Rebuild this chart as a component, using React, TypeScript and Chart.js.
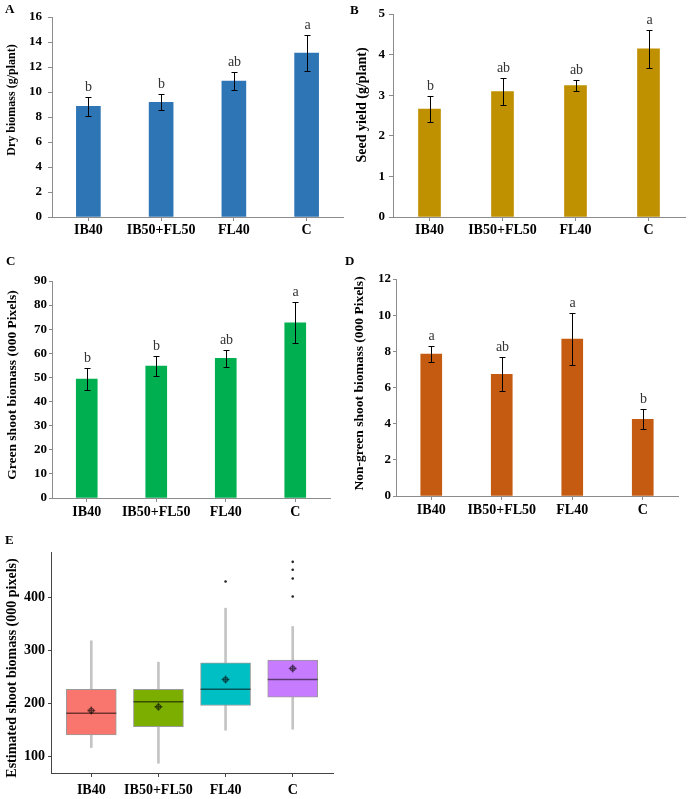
import React, { useEffect, useRef } from "react";
import { Chart, registerables } from "chart.js";
Chart.register(...registerables);

const FONT = "'Liberation Serif', 'Times New Roman', serif";
const AXIS = "#8c8c8c";

// ---- data ----
const categories = ["IB40", "IB50+FL50", "FL40", "C"];

const dryBiomass = [8.85, 9.18, 10.87, 13.12];
const dryBiomassErr = [0.77, 0.65, 0.7, 1.45];
const dryBiomassLetters = ["b", "b", "ab", "a"];

const seedYield = [2.66, 3.09, 3.24, 4.14];
const seedYieldErr = [0.33, 0.33, 0.14, 0.47];
const seedYieldLetters = ["b", "ab", "ab", "a"];

const greenShoot = [49.3, 54.7, 57.9, 72.7];
const greenShootErr = [4.7, 4.2, 3.4, 8.4];
const greenShootLetters = ["b", "b", "ab", "a"];

const nonGreenShoot = [7.85, 6.73, 8.68, 4.24];
const nonGreenShootErr = [0.44, 0.95, 1.45, 0.56];
const nonGreenShootLetters = ["a", "ab", "a", "b"];

const boxQ1 = [140.7, 156.4, 196.0, 211.7];
const boxMedian = [181.5, 202.9, 226.7, 244.9];
const boxQ3 = [226.7, 226.7, 276.3, 281.4];
const whiskerLow = [116.9, 87.4, 149.5, 151.4];
const whiskerHigh = [317.8, 277.6, 379.3, 344.8];
const boxMean = [186.6, 193.5, 244.9, 265.7];
const outliers = [[], [], [429.5], [466.5, 451.5, 435.2, 401.3]];
const boxTicks = [100, 200, 300, 400];
const boxColors = ["#F8766D", "#7CAE00", "#00BFC4", "#C77CFF"];

// ---- plugins ----
const errorBarPlugin = {
  id: "errbars",
  afterDatasetsDraw(chart: any, _a: any, opts: any) {
    if (!opts || !opts.errors) return;
    const meta = chart.getDatasetMeta(0);
    const y = chart.scales.y;
    const vals = chart.data.datasets[0].data;
    const ctx = chart.ctx;
    ctx.save();
    ctx.strokeStyle = "#000";
    ctx.lineWidth = 1;
    meta.data.forEach((el: any, i: number) => {
      const v = vals[i];
      const e = opts.errors[i];
      const x = Math.round(el.x) + 0.5;
      const top = Math.round(y.getPixelForValue(v + e)) + 0.5;
      const bot = Math.round(y.getPixelForValue(v - e)) + 0.5;
      ctx.beginPath();
      ctx.moveTo(x, top);
      ctx.lineTo(x, bot);
      ctx.moveTo(x - 3, top);
      ctx.lineTo(x + 3, top);
      ctx.moveTo(x - 3, bot);
      ctx.lineTo(x + 3, bot);
      ctx.stroke();
      if (opts.letters) {
        ctx.fillStyle = "#333";
        ctx.font = `14px ${FONT}`;
        ctx.textAlign = "center";
        ctx.textBaseline = "alphabetic";
        ctx.fillText(opts.letters[i], x, top - 7);
      }
    });
    ctx.restore();
  },
};

const annotPlugin = {
  id: "annot",
  afterDraw(chart: any, _a: any, opts: any) {
    if (!opts || !opts.panel) return;
    const ctx = chart.ctx;
    ctx.save();
    ctx.fillStyle = "#000";
    ctx.font = `bold 13px ${FONT}`;
    ctx.textAlign = "left";
    ctx.textBaseline = "middle";
    ctx.fillText(opts.panel, opts.panelX, opts.panelY);
    ctx.translate(opts.titleX, opts.titleY);
    ctx.rotate(-Math.PI / 2);
    ctx.font = `bold ${opts.titleSize}px ${FONT}`;
    ctx.textAlign = "center";
    ctx.fillText(opts.title, 0, 0);
    ctx.restore();
  },
};

const medianPlugin = {
  id: "medians",
  afterDatasetsDraw(chart: any, _a: any, opts: any) {
    if (!opts || !opts.medians) return;
    const xs = chart.scales.x;
    const ys = chart.scales.y;
    const ctx = chart.ctx;
    const half = opts.halfWidth;
    ctx.save();
    ctx.strokeStyle = "rgba(0,0,0,0.55)";
    ctx.lineWidth = 1.5;
    opts.medians.forEach((m: number, i: number) => {
      const x = xs.getPixelForValue(i + 1);
      const y = ys.getPixelForValue(m);
      ctx.beginPath();
      ctx.moveTo(x - half, y);
      ctx.lineTo(x + half, y);
      ctx.stroke();
    });
    ctx.restore();
  },
};

// ---- config builders ----
function barConfig(p: any): any {
  return {
    type: "bar",
    data: {
      labels: categories,
      datasets: [
        {
          data: p.values,
          backgroundColor: p.color,
          borderWidth: 0,
          barThickness: p.barThickness,
        },
      ],
    },
    plugins: [errorBarPlugin, annotPlugin],
    options: {
      responsive: false,
      animation: false,
      layout: { padding: p.padding },
      plugins: {
        legend: { display: false },
        tooltip: { enabled: false },
        errbars: { errors: p.errors, letters: p.letters },
        annot: p.annot,
      },
      scales: {
        x: {
          type: "category",
          offset: true,
          grid: {
            display: true,
            drawOnChartArea: false,
            drawTicks: true,
            tickLength: 4,
            color: AXIS,
            offset: false,
          },
          border: { display: true, color: AXIS, width: 1 },
          ticks: {
            color: "#000",
            font: { family: FONT, size: 14, weight: "bold" },
            padding: p.xTickPad,
            maxRotation: 0,
            autoSkip: false,
          },
          afterFit: (s: any) => {
            s.height = p.xHeight;
          },
        },
        y: {
          min: 0,
          max: p.max,
          grid: {
            display: true,
            drawOnChartArea: false,
            drawTicks: true,
            tickLength: p.yTickLen,
            color: AXIS,
          },
          border: { display: true, color: AXIS, width: 1 },
          ticks: {
            stepSize: p.step,
            color: "#000",
            font: { family: FONT, size: 13, weight: "bold" },
            padding: p.yTickPad,
          },
          afterFit: (s: any) => {
            s.width = p.yWidth;
          },
        },
      },
    },
  };
}

function boxConfig(): any {
  const meanPts = boxMean.map((m, i) => ({ x: i + 1, y: m }));
  const outPts: any[] = [];
  outliers.forEach((arr, i) => arr.forEach((v) => outPts.push({ x: i + 1, y: v })));
  return {
    type: "bar",
    data: {
      datasets: [
        {
          type: "bar",
          data: categories.map((_, i) => ({ x: i + 1, y: [whiskerLow[i], whiskerHigh[i]] })),
          backgroundColor: "#c4c4c4",
          borderWidth: 0,
          barThickness: 2,
          grouped: false,
          order: 3,
        },
        {
          type: "bar",
          data: categories.map((_, i) => ({ x: i + 1, y: [boxQ1[i], boxQ3[i]] })),
          backgroundColor: boxColors,
          borderColor: "#9a9a9a",
          borderWidth: 1,
          borderSkipped: false,
          barThickness: 50,
          grouped: false,
          order: 2,
        },
        {
          type: "scatter",
          data: meanPts,
          pointStyle: "circle",
          radius: 2.6,
          backgroundColor: "rgba(0,0,0,0.25)",
          borderColor: "rgba(0,0,0,0.45)",
          borderWidth: 1,
          order: 1,
        },
        {
          type: "scatter",
          data: meanPts,
          pointStyle: "cross",
          radius: 4,
          borderColor: "rgba(0,0,0,0.5)",
          borderWidth: 1.5,
          order: 1,
        },
        {
          type: "scatter",
          data: outPts,
          pointStyle: "circle",
          radius: 1.3,
          backgroundColor: "#222",
          borderWidth: 0,
          order: 0,
        },
      ],
    },
    plugins: [medianPlugin, annotPlugin],
    options: {
      responsive: false,
      animation: false,
      layout: { padding: { left: 0, top: 22, right: 12, bottom: 0 } },
      plugins: {
        legend: { display: false },
        tooltip: { enabled: false },
        medians: { medians: boxMedian, halfWidth: 25 },
        annot: {
          panel: "E",
          panelX: 5,
          panelY: 11,
          title: "Estimated shoot biomass (000 pixels)",
          titleX: 12,
          titleY: 138,
          titleSize: 14,
        },
      },
      scales: {
        x: {
          type: "linear",
          min: 0.4,
          max: 4.6,
          offset: false,
          afterBuildTicks: (s: any) => {
            s.ticks = categories.map((_, i) => ({ value: i + 1 }));
          },
          grid: {
            display: true,
            drawOnChartArea: false,
            drawTicks: true,
            tickLength: 4,
            color: "#444",
            offset: false,
          },
          border: { display: true, color: "#444", width: 1 },
          ticks: {
            color: "#000",
            font: { family: FONT, size: 14, weight: "bold" },
            padding: 5,
            maxRotation: 0,
            autoSkip: false,
            callback: (v: any) => categories[Math.round(v) - 1] ?? "",
          },
          afterFit: (s: any) => {
            s.height = 26;
          },
        },
        y: {
          min: 69,
          max: 485,
          afterBuildTicks: (s: any) => {
            s.ticks = boxTicks.map((v) => ({ value: v }));
          },
          grid: {
            display: true,
            drawOnChartArea: false,
            drawTicks: true,
            tickLength: 3,
            color: "#444",
          },
          border: { display: true, color: "#444", width: 1 },
          ticks: {
            color: "#000",
            font: { family: FONT, size: 14, weight: "bold" },
            padding: 3,
          },
          afterFit: (s: any) => {
            s.width = 51;
          },
        },
      },
    },
  };
}

function ChartCanvas(props: { left: number; top: number; width: number; height: number; make: () => any }) {
  const ref = useRef<HTMLCanvasElement>(null);
  useEffect(() => {
    const chart = new Chart(ref.current as HTMLCanvasElement, props.make());
    return () => chart.destroy();
  }, []);
  return (
    <canvas
      ref={ref}
      width={props.width}
      height={props.height}
      style={{ position: "absolute", left: props.left, top: props.top, width: props.width, height: props.height }}
    />
  );
}

export default function App() {
  return (
    <div style={{ position: "absolute", left: 0, top: 0, width: 690, height: 799, background: "#fff", overflow: "hidden" }}>
      <ChartCanvas
        left={0}
        top={0}
        width={345}
        height={250}
        make={() =>
          barConfig({
            values: dryBiomass,
            errors: dryBiomassErr,
            letters: dryBiomassLetters,
            color: "#2E75B6",
            max: 16,
            step: 2,
            barThickness: 24,
            padding: { left: 0, top: 17, right: 2, bottom: 0 },
            yWidth: 52,
            xHeight: 33,
            xTickPad: 1,
            yTickPad: 6,
            yTickLen: 4,
            annot: { panel: "A", panelX: 5, panelY: 10, title: "Dry biomass (g/plant)", titleX: 12, titleY: 100, titleSize: 12 },
          })
        }
      />
      <ChartCanvas
        left={345}
        top={0}
        width={345}
        height={250}
        make={() =>
          barConfig({
            values: seedYield,
            errors: seedYieldErr,
            letters: seedYieldLetters,
            color: "#BF9000",
            max: 5,
            step: 1,
            barThickness: 22,
            padding: { left: 0, top: 14, right: 5, bottom: 0 },
            yWidth: 48,
            xHeight: 33,
            xTickPad: 1,
            yTickPad: 4,
            yTickLen: 4,
            annot: { panel: "B", panelX: 5, panelY: 11, title: "Seed yield (g/plant)", titleX: 17, titleY: 105, titleSize: 14 },
          })
        }
      />
      <ChartCanvas
        left={0}
        top={250}
        width={345}
        height={275}
        make={() =>
          barConfig({
            values: greenShoot,
            errors: greenShootErr,
            letters: greenShootLetters,
            color: "#00B050",
            max: 90,
            step: 10,
            barThickness: 21,
            padding: { left: 0, top: 31, right: 15, bottom: 0 },
            yWidth: 52,
            xHeight: 27,
            xTickPad: 2,
            yTickPad: 2,
            yTickLen: 3,
            annot: { panel: "C", panelX: 6, panelY: 11.5, title: "Green shoot biomass (000 Pixels)", titleX: 13, titleY: 135, titleSize: 13.5 },
          })
        }
      />
      <ChartCanvas
        left={345}
        top={250}
        width={345}
        height={275}
        make={() =>
          barConfig({
            values: nonGreenShoot,
            errors: nonGreenShootErr,
            letters: nonGreenShootLetters,
            color: "#C55A11",
            max: 12,
            step: 2,
            barThickness: 21,
            padding: { left: 0, top: 29, right: 12, bottom: 0 },
            yWidth: 51,
            xHeight: 29,
            xTickPad: 2,
            yTickPad: 2,
            yTickLen: 3,
            annot: { panel: "D", panelX: 0, panelY: 11.5, title: "Non-green shoot biomass (000 Pixels)", titleX: 15, titleY: 133.5, titleSize: 13.5 },
          })
        }
      />
      <ChartCanvas left={0} top={530} width={345} height={269} make={boxConfig} />
    </div>
  );
}
